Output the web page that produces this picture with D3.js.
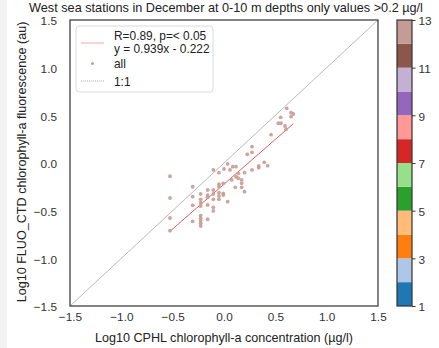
<!DOCTYPE html>
<html>
<head>
<meta charset="utf-8">
<script src="https://cdn.jsdelivr.net/npm/d3@7"></script>
<style>
  html, body { margin: 0; padding: 0; background: #fff; }
  svg { display: block; font-family: "Liberation Sans", Arial, sans-serif; }
</style>
</head>
<body>
<svg id="chart" width="439" height="348"></svg>
<script>
// Log10 CPHL (x) vs Log10 FLUO_CTD (y), December samples
const cphl = [
  -0.526, -0.526, -0.526, -0.526,
  -0.305, -0.305, -0.305, -0.305,
  -0.227, -0.227, -0.227, -0.227, -0.227, -0.227, -0.227, -0.227, -0.227,
  -0.159, -0.159, -0.159, -0.159, -0.159,
  -0.104, -0.104, -0.104, -0.104, -0.104, -0.104,
  -0.049, -0.049, -0.049, -0.049, -0.049, -0.049,
  -0.007, -0.007, -0.007, 0.000, 0.036, 0.036,
  0.058, 0.075, 0.085, 0.117, 0.117, 0.110, 0.139, 0.139,
  0.172, 0.172, 0.172, 0.200, 0.200, 0.227,
  0.273, 0.273, 0.273, 0.338, 0.338, 0.392, 0.425, 0.458,
  0.529, 0.555, 0.552, 0.594, 0.604, 0.611, 0.653, 0.675, 0.653
];
const fluo = [
  -0.139, -0.367, -0.577, -0.710,
  -0.249, -0.353, -0.444, -0.612,
  -0.325, -0.381, -0.416, -0.451, -0.553, -0.580, -0.605, -0.632, -0.661,
  -0.283, -0.336, -0.360, -0.440, -0.590,
  -0.073, -0.283, -0.325, -0.381, -0.465, -0.503,
  -0.102, -0.223, -0.249, -0.311, -0.346, -0.381,
  -0.213, -0.318, -0.336, -0.063, -0.010, -0.406,
  -0.073, -0.178, -0.039, -0.039, -0.144, -0.255, -0.108, -0.160,
  -0.178, -0.213, -0.255, -0.301, -0.102, 0.091,
  -0.073, 0.171, 0.112, -0.031, -0.049, 0.007, -0.028, 0.297,
  0.417, 0.417, 0.479, 0.388, 0.354, 0.574, 0.528, 0.514, 0.486
];

// Fit statistics
const slope = 0.939;
const intercept = -0.222;
const legendLabels = ["R=0.89, p=< 0.05", "y = 0.939x - 0.222", "all", "1:1"];

const axisTicks = [-1.5, -1.0, -0.5, 0.0, 0.5, 1.0, 1.5];
const monthTicks = [1, 3, 5, 7, 9, 11, 13];
const monthColors = ["#1f77b4", "#aec7e8", "#ff7f0e", "#ffbb78", "#2ca02c", "#98df8a",
                     "#d62728", "#ff9896", "#9467bd", "#c5b0d5", "#8c564b", "#c49c94"];

const titleText = "West sea stations in December at 0-10 m depths only values >0.2 \u00b5g/l";
const xLabel = "Log10 CPHL chlorophyll-a concentration (\u00b5g/l)";
const yLabel = "Log10 FLUO_CTD chlorophyll-a fluorescence (au)";

const svg = d3.select("#chart");
const plot = { left: 70, right: 378, top: 20, bottom: 306 };
const fontFamily = "Liberation Sans, Arial, sans-serif";

// light strip at the left edge of the figure
svg.append("rect").attr("x", 0).attr("y", 0).attr("width", 7).attr("height", 348).attr("fill", "#f3f3f3");

const x = d3.scaleLinear().domain([-1.5, 1.5]).range([plot.left, plot.right]);
const y = d3.scaleLinear().domain([-1.5, 1.5]).range([plot.bottom, plot.top]);
const fmt = d3.format(".1f");
const minus = s => s.replace("-", "\u2212");

// axes (labels only, no tick marks)
const xAxis = svg.append("g").attr("transform", `translate(0,${plot.bottom})`)
  .call(d3.axisBottom(x).tickValues(axisTicks).tickSize(0).tickPadding(7).tickFormat(d => minus(fmt(d))));
const yAxis = svg.append("g").attr("transform", `translate(${plot.left},0)`)
  .call(d3.axisLeft(y).tickValues(axisTicks).tickSize(0).tickPadding(13).tickFormat(d => minus(fmt(d))));
[xAxis, yAxis].forEach(g => {
  g.select(".domain").remove();
  g.selectAll("text").attr("font-size", 11.8).attr("fill", "#333").attr("font-family", fontFamily);
});
yAxis.selectAll("text").attr("dy", "0.42em");

// 1:1 reference line
svg.append("line")
  .attr("x1", x(-1.5)).attr("y1", y(-1.5)).attr("x2", x(1.5)).attr("y2", y(1.5))
  .attr("stroke", "#a8a8a8").attr("stroke-width", 0.8);

// regression line over the data range
const xr = d3.extent(cphl);
svg.append("line")
  .attr("x1", x(xr[0])).attr("y1", y(slope * xr[0] + intercept))
  .attr("x2", x(xr[1])).attr("y2", y(slope * xr[1] + intercept))
  .attr("stroke", "#d62728").attr("stroke-opacity", 0.75).attr("stroke-width", 1);

// samples
svg.append("g").selectAll("circle")
  .data(cphl.map((v, i) => [v, fluo[i]]))
  .join("circle")
  .attr("cx", d => x(d[0])).attr("cy", d => y(d[1])).attr("r", 1.9)
  .attr("fill", "#c49c94").attr("fill-opacity", 0.9);

// frame
svg.append("rect")
  .attr("x", plot.left).attr("y", plot.top)
  .attr("width", plot.right - plot.left).attr("height", plot.bottom - plot.top)
  .attr("fill", "none").attr("stroke", "#333").attr("stroke-width", 1.2);

// legend
const lg = svg.append("g");
lg.append("rect").attr("x", 76).attr("y", 26).attr("width", 137).attr("height", 66).attr("rx", 3)
  .attr("fill", "#fff").attr("fill-opacity", 0.85).attr("stroke", "#d0d0d0").attr("stroke-width", 0.8);
lg.append("line").attr("x1", 81).attr("x2", 104).attr("y1", 43).attr("y2", 43)
  .attr("stroke", "#d62728").attr("stroke-opacity", 0.4).attr("stroke-width", 1);
lg.append("circle").attr("cx", 92.5).attr("cy", 63.5).attr("r", 1.5).attr("fill", "#c49c94");
lg.append("line").attr("x1", 81).attr("x2", 104).attr("y1", 81).attr("y2", 81)
  .attr("stroke", "#999").attr("stroke-width", 0.8).attr("stroke-dasharray", "1,1");
const lgY = [40, 52.5, 68, 86];
legendLabels.forEach((t, i) => {
  lg.append("text").attr("x", 114).attr("y", lgY[i]).attr("font-size", 11.9).attr("fill", "#222").text(t);
});

// month colour bar
const cb = { left: 397, right: 412 };
const cy = d3.scaleLinear().domain([1, 13]).range([plot.bottom, plot.top]);
svg.append("g").selectAll("rect")
  .data(monthColors)
  .join("rect")
  .attr("x", cb.left).attr("width", cb.right - cb.left)
  .attr("y", (c, i) => cy(i + 2)).attr("height", (c, i) => cy(i + 1) - cy(i + 2))
  .attr("fill", d => d);
svg.append("rect").attr("x", cb.left).attr("y", plot.top)
  .attr("width", cb.right - cb.left).attr("height", plot.bottom - plot.top)
  .attr("fill", "none").attr("stroke", "#333").attr("stroke-width", 1.2);
const cAxis = svg.append("g").attr("transform", `translate(${cb.right},0)`)
  .call(d3.axisRight(cy).tickValues(monthTicks).tickSize(3.5).tickPadding(3).tickFormat(d3.format("d")));
cAxis.select(".domain").remove();
cAxis.selectAll("line").attr("stroke", "#333");
cAxis.selectAll("text").attr("font-size", 11.8).attr("fill", "#333").attr("font-family", fontFamily)
  .attr("dy", "0.42em");

// titles
svg.append("text").attr("x", 226).attr("y", 11.5).attr("text-anchor", "middle")
  .attr("font-size", 12.7).attr("fill", "#222").text(titleText);
svg.append("text").attr("x", 224).attr("y", 342).attr("text-anchor", "middle")
  .attr("font-size", 12.6).attr("fill", "#222").text(xLabel);
svg.append("text").attr("transform", `translate(26,162) rotate(-90)`).attr("text-anchor", "middle")
  .attr("font-size", 12.6).attr("fill", "#222").text(yLabel);
</script>
</body>
</html>
